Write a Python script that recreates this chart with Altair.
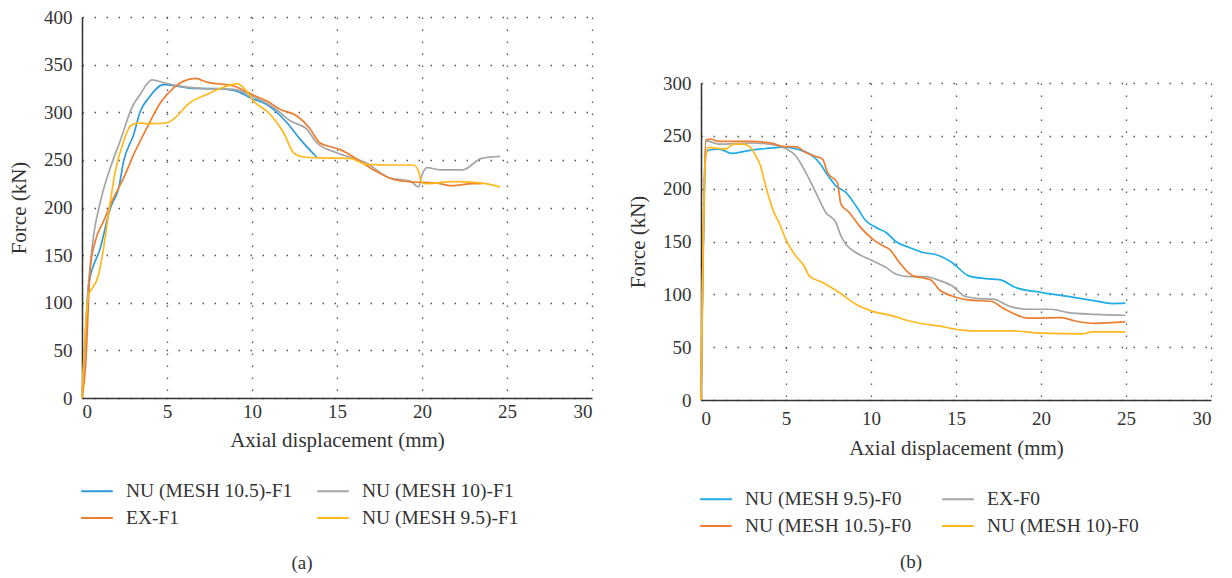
import altair as alt
import pandas as pd

FONT = "'Liberation Serif', 'Times New Roman', 'DejaVu Serif', serif"
TXT = "#333333"

# ---------------- Panel (a) ----------------
A_NAMES = ["NU (MESH 10.5)-F1", "NU (MESH 10)-F1", "EX-F1", "NU (MESH 9.5)-F1"]
A_COLORS = ["#2E9BDA", "#A5A5A5", "#ED7D31", "#FFB81C"]

a_nu105_x = [0, 0.2, 0.39, 1.08, 1.67, 2.16, 2.45, 3.04, 3.43, 3.92, 4.8, 5.59, 6.57, 7.94, 8.92, 10.0, 10.88, 12.06, 12.84, 13.8]
a_nu105_y = [0, 60, 119, 157.6, 199.6, 220.7, 248.7, 276.7, 301, 315, 329, 327.5, 325, 324.7, 323, 314.5, 308, 289, 271.5, 253]

a_nu10_x = [0, 0.3, 0.69, 1.08, 1.67, 2.25, 2.94, 3.43, 4.12, 4.8, 5.4, 6.96, 8.92, 10.0, 11.27, 12.25, 13.24, 13.8, 14.98, 16.75, 18.1, 19.3, 19.8, 19.98, 20.3, 21.06, 22.4, 23.5, 24.6]
a_nu10_y = [0, 100, 171.6, 206, 242, 270, 305, 319, 334, 331, 328.5, 325, 324, 317, 305, 291, 282, 268, 257.5, 246.4, 231, 227.8, 221.5, 233, 241.8, 239.6, 239.6, 251.6, 253.7]

a_ex_x = [0, 0.2, 0.49, 0.78, 1.27, 1.86, 2.45, 3.04, 3.82, 4.61, 5.39, 5.98, 6.67, 7.35, 8.92, 10.0, 10.88, 11.67, 12.65, 13.4, 13.98, 14.57, 15.16, 16.33, 17.3, 18.3, 19.3, 20.7, 21.8, 23.0, 23.5]
a_ex_y = [0, 31, 136.6, 164.6, 185.6, 210, 231, 255.7, 283.7, 310, 325.7, 332.7, 335.5, 331.7, 327.5, 318.7, 311.7, 303, 296, 283, 268, 264, 261, 248.8, 238, 229.6, 227, 226, 222.9, 225, 225]

a_nu95_x = [0, 0.39, 0.49, 0.98, 1.27, 1.67, 1.96, 2.45, 2.84, 3.24, 4.02, 5.0, 5.78, 6.18, 7.35, 8.53, 9.12, 9.51, 10.1, 11.08, 11.86, 12.45, 13.04, 14.0, 15.76, 16.7, 18.3, 19.5, 19.8, 19.98, 20.3, 21.8, 23.4, 24.6]
a_nu95_y = [0, 108.6, 112, 129.6, 157.6, 206.7, 238, 269.7, 285.5, 288.6, 288, 289, 299.5, 307.5, 318.7, 327.5, 330, 325.7, 311.7, 297.7, 278.5, 257.4, 253, 252, 251.6, 245.3, 244.6, 244.6, 238, 226, 225, 227.2, 225.8, 221.5]

# ---------------- Panel (b) ----------------
B_NAMES = ["NU (MESH 9.5)-F0", "EX-F0", "NU (MESH 10.5)-F0", "NU (MESH 10)-F0"]
B_COLORS = ["#1EADE4", "#A5A5A5", "#ED7D31", "#FFB81C"]

b_nu95_x = [0, 0.3, 0.55, 1.04, 1.83, 2.62, 3.8, 4.98, 5.77, 6.56, 6.95, 7.34, 7.93, 8.52, 9.11, 9.7, 10.3, 10.89, 11.48, 12.26, 13.05, 13.84, 14.76, 15.75, 16.73, 17.61, 18.5, 20.06, 21.6, 23.2, 24.2, 24.96]
b_nu95_y = [0, 234.3, 236.8, 237.5, 233.4, 235.6, 238, 239.4, 236.8, 231, 224.8, 215.4, 202.7, 196.4, 183.8, 169.6, 163.3, 158.5, 149.7, 144.3, 139.6, 137.4, 130.1, 117.5, 114.9, 113.7, 106.4, 101.7, 98, 93.8, 91.3, 91.6]

b_ex_x = [0, 0.3, 1.04, 3.0, 4.0, 4.98, 5.57, 6.16, 6.75, 7.34, 7.93, 8.23, 8.52, 9.11, 10.1, 10.89, 11.48, 12.26, 13.25, 13.79, 14.76, 15.55, 16.33, 17.2, 18.1, 19.2, 20.6, 21.6, 23.2, 24.96]
b_ex_y = [0, 245.4, 242.2, 243.2, 242.2, 238, 231.2, 215.4, 196.4, 177.5, 168, 155.4, 147.5, 139.6, 131.7, 125.4, 119, 116.8, 116.8, 114.4, 108.1, 97.9, 96, 95.4, 89, 85.9, 85.9, 82.7, 81.1, 80.2]

b_nu105_x = [0, 0.3, 0.55, 1.04, 3.0, 4.19, 4.98, 5.57, 6.16, 6.75, 7.15, 7.44, 8.03, 8.23, 8.72, 9.31, 10.1, 10.69, 11.08, 11.67, 12.46, 13.25, 13.59, 13.98, 14.76, 15.75, 17.12, 17.7, 18.7, 19.2, 21.2, 22.0, 23.2, 24.96]
b_nu105_y = [0, 246.3, 247, 244.7, 244.7, 242.8, 239.7, 239.7, 234.3, 230.5, 228, 215.4, 205.3, 185.4, 177.5, 164.8, 152.2, 145.9, 142.7, 130.1, 117.5, 114.9, 112.8, 104.9, 98.5, 94.7, 93.2, 87.5, 79.6, 77.4, 78, 74.8, 72.6, 73.9]

b_nu10_x = [0, 0.26, 0.45, 1.04, 1.44, 1.93, 2.52, 2.91, 3.21, 3.5, 3.8, 4.29, 4.59, 4.98, 5.57, 6.06, 6.36, 7.15, 8.13, 9.11, 10.0, 11.28, 12.26, 13.25, 14.0, 14.76, 15.94, 18.3, 20.06, 22.4, 23.0, 24.96]
b_nu10_y = [0, 228, 239, 238, 237.5, 242.2, 242.2, 239, 231.2, 221.7, 202.7, 177.5, 168, 152.2, 136.4, 127, 117.5, 111.2, 101.7, 90.6, 84.3, 79.6, 74.8, 71.7, 70.1, 67.6, 65.4, 65.4, 63.2, 62.5, 64.4, 64.4]

X_TICKS = [0, 5, 10, 15, 20, 25, 30]
A_Y_TICKS = [0, 50, 100, 150, 200, 250, 300, 350, 400]
B_Y_TICKS = [0, 50, 100, 150, 200, 250, 300]


def frame(series):
    rows = []
    for name, xs, ys in series:
        for i, (xv, yv) in enumerate(zip(xs, ys)):
            rows.append({"series": name, "x": xv, "y": yv, "i": i})
    return pd.DataFrame(rows)


df_a = frame([
    (A_NAMES[0], a_nu105_x, a_nu105_y),
    (A_NAMES[1], a_nu10_x, a_nu10_y),
    (A_NAMES[2], a_ex_x, a_ex_y),
    (A_NAMES[3], a_nu95_x, a_nu95_y),
])
df_b = frame([
    (B_NAMES[0], b_nu95_x, b_nu95_y),
    (B_NAMES[1], b_ex_x, b_ex_y),
    (B_NAMES[2], b_nu105_x, b_nu105_y),
    (B_NAMES[3], b_nu10_x, b_nu10_y),
])


def panel(df, names, colors, ymax, yticks, height, legend_y, col_pad, caption, cap_x, cap_y,
          x_lab_pad, x_title_pad):
    lines = alt.Chart(df).mark_line(strokeWidth=1.7, interpolate="monotone").encode(
        x=alt.X("x:Q", scale=alt.Scale(domain=[0, 30], nice=False),
                axis=alt.Axis(values=X_TICKS, title="Axial displacement (mm)",
                              labelPadding=x_lab_pad, titlePadding=x_title_pad)),
        y=alt.Y("y:Q", scale=alt.Scale(domain=[0, ymax], nice=False),
                axis=alt.Axis(values=yticks, title="Force (kN)")),
        color=alt.Color("series:N", scale=alt.Scale(domain=names, range=colors),
                        legend=alt.Legend(title=None, orient="none", legendX=-2,
                                          legendY=legend_y, columns=2, direction="horizontal",
                                          columnPadding=col_pad)),
        order="i:Q",
        detail="series:N",
    )
    cap = alt.Chart(pd.DataFrame({"t": [caption]})).mark_text(
        font=FONT, fontSize=19, color=TXT, baseline="middle", align="center"
    ).encode(text="t:N", x=alt.value(cap_x), y=alt.value(cap_y))
    return alt.layer(lines, cap).properties(width=510, height=height)


left = panel(df_a, A_NAMES, A_COLORS, 400, A_Y_TICKS, 381, 457, 20, "(a)", 220, 545.5, 4, 8)
right_core = panel(df_b, B_NAMES, B_COLORS, 300, B_Y_TICKS, 317, 465, 26, "(b)", 210, 478.5, 9, 9)

spacer = alt.Chart(pd.DataFrame({"v": [0]})).mark_point(opacity=0).encode(
    x=alt.value(0), y=alt.value(0)
).properties(width=510, height=57)

right = alt.vconcat(spacer, right_core, spacing=0)

chart = alt.hconcat(left, right, spacing=35).resolve_scale(color="independent").properties(
    padding={"left": 0, "top": 0, "right": 5, "bottom": 5}
).configure_view(stroke=None).configure_axis(
    grid=True, gridColor="#555555", gridDash=[1.5, 10.5], gridWidth=1.3,
    domainColor="#333333", domainWidth=1.5, ticks=False,
    labelFont=FONT, labelFontSize=19, labelColor=TXT, labelPadding=10,
    titleFont=FONT, titleFontSize=21, titleFontWeight="normal", titleColor=TXT,
    titlePadding=14,
).configure_legend(
    labelFont=FONT, labelFontSize=19.5, labelColor=TXT, symbolType="stroke",
    symbolStrokeWidth=2, symbolSize=1000, rowPadding=-5,
    labelOffset=12, labelLimit=400,
)

chart.save("out.html", embed_options={"renderer": "svg", "actions": False})
